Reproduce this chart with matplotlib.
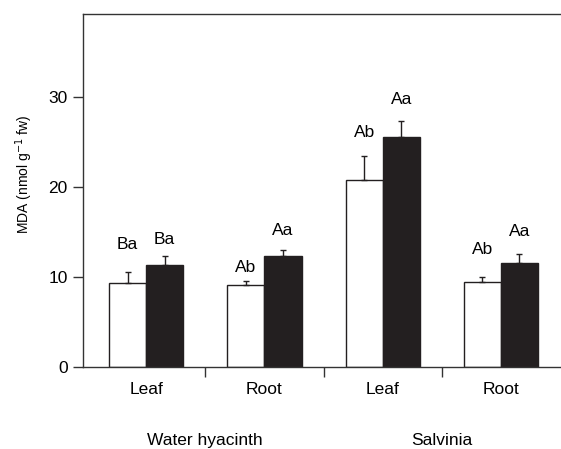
import matplotlib
matplotlib.use('Agg')
import matplotlib.pyplot as plt
import numpy as np

plt.rcParams['font.family'] = ['Liberation Sans Narrow', 'Liberation Sans', 'DejaVu Sans']

# Data
tissues = ['Leaf', 'Root', 'Leaf', 'Root']
species = ['Water hyacinth', 'Salvinia']
white_vals = [9.3, 9.1, 20.8, 9.4]
white_err = [1.2, 0.45, 2.6, 0.6]
black_vals = [11.3, 12.3, 25.5, 11.6]
black_err = [1.0, 0.65, 1.8, 0.9]
white_labels = ['Ba', 'Ab', 'Ab', 'Ab']
black_labels = ['Ba', 'Aa', 'Aa', 'Aa']
white_label_y = [13.6, 11.0, 26.1, 13.1]
black_label_y = [14.2, 15.2, 29.7, 15.1]

x = np.arange(len(tissues))
w = 0.314
fs = 12.5

fig = plt.figure(figsize=(5.61, 4.49), dpi=100)
ax = fig.add_axes([0.148, 0.1826, 0.852, 0.786])

ax.bar(x - w / 2, white_vals, w, color='white', edgecolor='#231f20', linewidth=1,
       yerr=[np.zeros(4), white_err], error_kw=dict(ecolor='#231f20', elinewidth=1, capsize=2.5, capthick=1))
ax.bar(x + w / 2, black_vals, w, color='#231f20', edgecolor='#231f20', linewidth=1,
       yerr=[np.zeros(4), black_err], error_kw=dict(ecolor='#231f20', elinewidth=1, capsize=2.5, capthick=1))

for i in range(len(tissues)):
    ax.text(x[i] - w / 2, white_label_y[i], white_labels[i], ha='center', va='center', fontsize=fs)
    ax.text(x[i] + w / 2, black_label_y[i], black_labels[i], ha='center', va='center', fontsize=fs)

tr = ax.get_xaxis_transform()
for i, t in enumerate(tissues):
    ax.text(x[i], -0.065, t, ha='center', va='center', fontsize=fs, transform=tr)
for j, s in enumerate(species):
    ax.text(2 * j + 0.5, -0.207, s, ha='center', va='center', fontsize=fs, transform=tr)

ax.set_xlim(-0.534, 3.508)
ax.set_ylim(0, 39.2)
ax.set_yticks([0, 10, 20, 30])
ax.set_xticks([0.5, 1.5, 2.5])
ax.set_xticklabels([])
ax.tick_params(axis='y', direction='out', length=7, width=1, labelsize=fs, color='#333333', pad=4)
ax.tick_params(axis='x', direction='out', length=7, width=1, color='#333333')
ax.set_ylabel('MDA (nmol g$^{-1}$ fw)', fontsize=10)
ax.yaxis.set_label_coords(-0.10, 0.547)

for side in ['left', 'top', 'bottom']:
    ax.spines[side].set_color('#333333')
    ax.spines[side].set_linewidth(1)
ax.spines['right'].set_visible(False)

fig.savefig('out.png', dpi=100)
